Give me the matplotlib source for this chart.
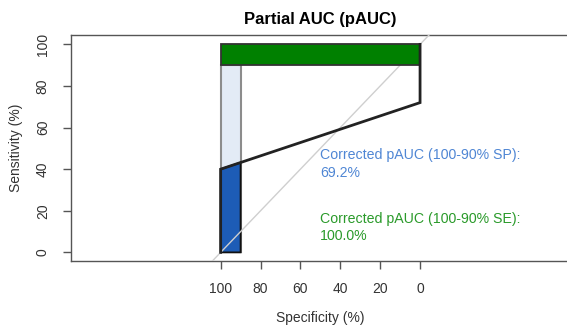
import numpy as np
import matplotlib
matplotlib.use("Agg")
import matplotlib.pyplot as plt
from matplotlib.patches import Polygon, Rectangle

plt.rcParams["font.family"] = ["Liberation Sans", "DejaVu Sans"]

# ROC curve (specificity, sensitivity in %)
roc_spec = [100, 100, 0, 0]
roc_sens = [0, 40, 72, 100]

# partial AUC ranges
sp_range = [100, 90]
se_range = [100, 90]

sp_label = "Corrected pAUC (100-90% SP):\n69.2%"
se_label = "Corrected pAUC (100-90% SE):\n100.0%"

ticks = [100, 80, 60, 40, 20, 0]

fig = plt.figure(figsize=(5.67, 3.29), dpi=100)
ax = fig.add_axes([0.1247, 0.2076, 0.8806, 0.686])
ax.set_xlim(175.2, -75.2)
ax.set_ylim(-4.0, 104.5)

# SP region: max area (light) and pAUC under the curve (dark)
ax.add_patch(Rectangle((sp_range[1], 0), sp_range[0] - sp_range[1], se_range[1],
                       facecolor="#e3ebf6", edgecolor="#8c8c8c", lw=1.5, zorder=1))
sens_at = np.interp(sp_range, roc_spec[1:3][::-1], roc_sens[1:3][::-1])
ax.add_patch(Polygon([(sp_range[0], 0), (sp_range[0], sens_at[0]),
                      (sp_range[1], sens_at[1]), (sp_range[1], 0)],
                     closed=True, facecolor="#1d5cb6", edgecolor="#111111", lw=1.3, zorder=2))

# chance diagonal
ax.plot([110, -10], [-10, 110], color="#cfcfcf", lw=1, zorder=3)

# SE region
ax.add_patch(Rectangle((0, se_range[1]), 100, se_range[0] - se_range[1],
                       facecolor="#008000", edgecolor="#333333", lw=1.3, zorder=4))

# ROC curve
ax.plot(roc_spec, roc_sens, color="#222222", lw=2, zorder=5, solid_joinstyle="miter")

ax.text(50, 42.5, sp_label, color="#4f86d4", fontsize=10.2, ha="left", va="center",
        linespacing=1.3, zorder=6)
ax.text(50, 11.8, se_label, color="#2a9a2a", fontsize=10.2, ha="left", va="center",
        linespacing=1.3, zorder=6)

ax.set_xticks(ticks)
ax.set_yticks(ticks)
ax.set_xticklabels([str(t) for t in ticks])
ax.set_yticklabels([str(t) for t in ticks], rotation=90, va="center")
ax.tick_params(axis="both", length=6, width=1, color="#555555", labelsize=10,
               labelcolor="#333333")
ax.tick_params(axis="x", pad=9)
ax.tick_params(axis="y", pad=9)
for s in ax.spines.values():
    s.set_color("#555555")
    s.set_linewidth(1)

ax.set_xlabel("Specificity (%)", fontsize=10, color="#333333", labelpad=11)
ax.set_ylabel("Sensitivity (%)", fontsize=10, color="#333333", labelpad=9)
ax.set_title("Partial AUC (pAUC)", fontsize=12, fontweight="bold", pad=8)

fig.savefig("out.png", dpi=100)
